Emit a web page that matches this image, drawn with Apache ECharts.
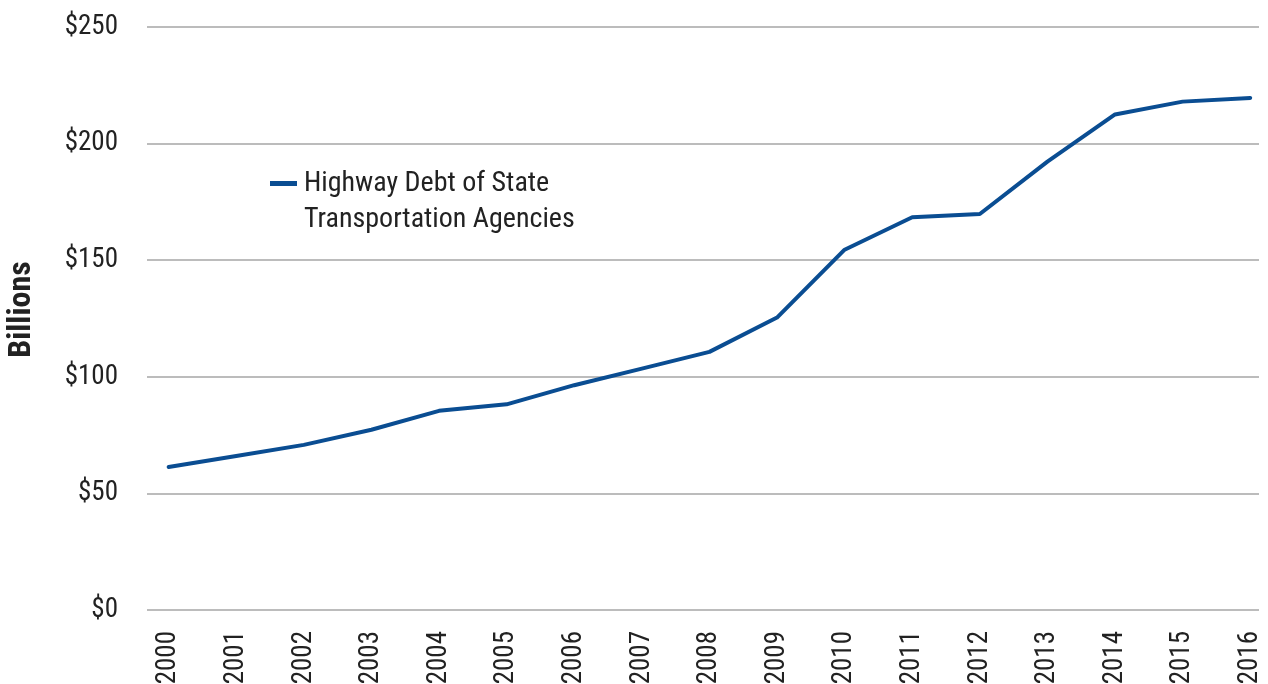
<!DOCTYPE html>
<html>
<head>
<meta charset="utf-8">
<script src="https://cdn.jsdelivr.net/npm/echarts@6/dist/echarts.min.js"></script>
<style>
html,body{margin:0;padding:0;background:#fff;}
#chart{width:1268px;height:684px;}
</style>
</head>
<body>
<div id="chart"></div>
<script>
var years = [2000,2001,2002,2003,2004,2005,2006,2007,2008,2009,2010,2011,2012,2013,2014,2015,2016];
var debt = [61.3,66.0,70.8,77.3,85.4,88.2,96.4,103.5,110.7,125.4,154.5,168.4,169.8,192.3,212.5,218.0,219.6];
var seriesName = 'Highway Debt of State\nTransportation Agencies';
var yTicks = [0,50,100,150,200,250];

var FONT = "'Roboto Condensed','Liberation Sans Narrow','DejaVu Sans Condensed',Roboto,sans-serif";
var LINE = '#0a4d92';
var TEXT = '#222222';

var chart = echarts.init(document.getElementById('chart'), null, {renderer:'canvas'});
chart.setOption({
  animation:false,
  backgroundColor:'#ffffff',
  grid:{left:147,right:9,top:27,bottom:74,containLabel:false,outerBoundsMode:'none'},
  xAxis:{
    type:'value',
    min:1999.68,
    max:2016.13,
    splitLine:{show:false},
    axisLine:{show:false},
    axisTick:{show:false},
    axisLabel:{
      customValues:years,
      rotate:90,
      margin:21,
      color:TEXT,
      fontFamily:FONT,
      fontSize:27,
      formatter:function(v){return String(v);}
    }
  },
  yAxis:{
    type:'value',
    min:yTicks[0],
    max:yTicks[yTicks.length-1],
    interval:50,
    name:'Billions',
    nameLocation:'middle',
    nameGap:109,
    nameRotate:90,
    nameTextStyle:{color:TEXT,fontFamily:FONT,fontSize:32,fontWeight:'bold',padding:[0,0,0,18]},
    axisLine:{show:false},
    axisTick:{show:false},
    splitLine:{lineStyle:{color:'#a6a6a6',width:1.5}},
    axisLabel:{
      margin:29,
      color:TEXT,
      fontFamily:FONT,
      fontSize:27,
      formatter:function(v){return '$'+v;}
    }
  },
  series:[{
    name:seriesName,
    type:'line',
    data:years.map(function(y,i){return [y,debt[i]];}),
    showSymbol:false,
    lineStyle:{color:LINE,width:4,cap:'round',join:'round'},
    itemStyle:{color:LINE}
  }],
  graphic:[
    {type:'rect',left:270,top:181,shape:{width:27,height:5},style:{fill:LINE}},
    {type:'text',left:304,top:166,style:{text:seriesName,fill:TEXT,font:'28px '+FONT,lineHeight:36}}
  ]
});
</script>
</body>
</html>
